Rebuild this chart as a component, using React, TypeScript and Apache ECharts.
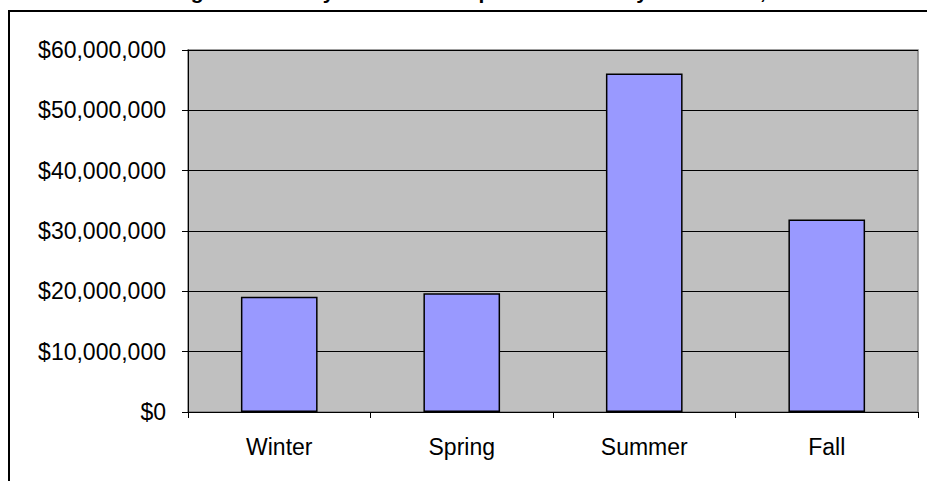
import React, { useEffect, useRef } from "react";
import * as echarts from "echarts";

const categories = ["Winter", "Spring", "Summer", "Fall"];
const earnings = [19100000, 19700000, 56100000, 31900000];
const titleText = "Total Earnings Per Film by Season for Top 50 Releases by Distributor, 2004";

export default function App() {
  const ref = useRef<HTMLDivElement>(null);
  useEffect(() => {
    document.body.style.margin = "0";
    const chart = echarts.init(ref.current!, null, { renderer: "svg" });
    chart.setOption({
      animation: false,
      textStyle: { fontFamily: "Liberation Sans, Arial, sans-serif" },
      graphic: [
        {
          type: "rect",
          shape: { x: 9, y: 11, width: 1000, height: 600 },
          style: { fill: "none", stroke: "#000", lineWidth: 2 },
          z: 10,
        },
        {
          type: "text",
          x: 71,
          y: 2,
          style: {
            text: titleText,
            fontSize: 21,
            fontWeight: "bold",
            fontFamily: "Liberation Sans, Arial, sans-serif",
            fill: "#000",
            align: "left",
            verticalAlign: "bottom",
          },
        },
      ],
      grid: {
        left: 188,
        top: 50,
        right: 9,
        bottom: 69,
        show: true,
        backgroundColor: "#C0C0C0",
        borderColor: "#808080",
        borderWidth: 1.5,
      },
      xAxis: {
        type: "category",
        data: categories,
        boundaryGap: true,
        axisLine: { lineStyle: { color: "#000", width: 1 } },
        axisTick: { show: true, length: 6, inside: false, lineStyle: { color: "#000" } },
        axisLabel: { color: "#000", fontSize: 23, margin: 23 },
      },
      yAxis: {
        type: "value",
        min: 0,
        max: 60000000,
        interval: 10000000,
        axisLine: { show: true, lineStyle: { color: "#000", width: 1 } },
        axisTick: { show: true, length: 6, lineStyle: { color: "#000" } },
        splitLine: { show: true, lineStyle: { color: "#000", width: 1 } },
        axisLabel: {
          color: "#000",
          fontSize: 23,
          margin: 22,
          formatter: (v: number) => "$" + v.toLocaleString("en-US"),
        },
      },
      series: [
        {
          type: "bar",
          data: earnings,
          barWidth: "42%",
          itemStyle: { color: "#9999FF", borderColor: "#000", borderWidth: 1.5 },
        },
      ],
    });
    return () => chart.dispose();
  }, []);
  return <div ref={ref} style={{ width: 927, height: 481 }} />;
}
